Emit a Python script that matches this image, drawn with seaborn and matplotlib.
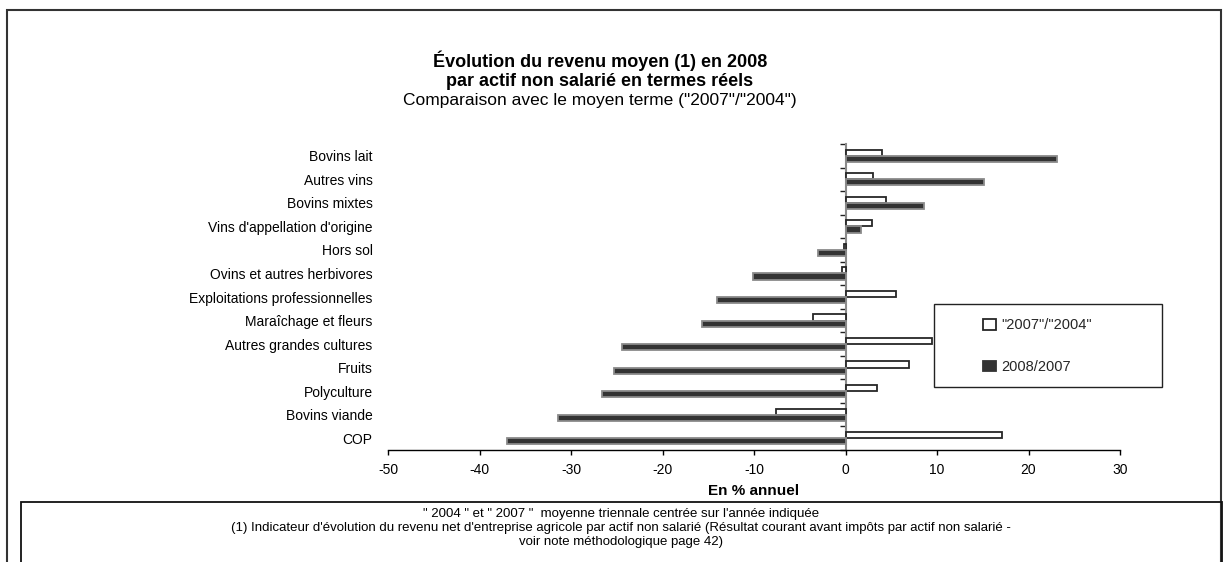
import numpy as np
import pandas as pd
import matplotlib
matplotlib.use("Agg")
import matplotlib.pyplot as plt
import seaborn as sns
from matplotlib.patches import Rectangle

# Data (en % annuel)
categories = ["Bovins lait", "Autres vins", "Bovins mixtes", "Vins d'appellation d'origine",
              "Hors sol", "Ovins et autres herbivores", "Exploitations professionnelles",
              "Maraîchage et fleurs", "Autres grandes cultures", "Fruits", "Polyculture",
              "Bovins viande", "COP"]
moyen_terme = [4.0, 3.0, 4.4, 2.9, -0.2, -0.4, 5.5, -3.5, 9.5, 6.9, 3.4, -7.6, 17.1]
evol_2008 = [23.1, 15.1, 8.6, 1.7, -3.0, -10.1, -14.0, -15.7, -24.4, -25.3, -26.6, -31.4, -37.0]
series = ['"2007"/"2004"', "2008/2007"]
xticks = [-50, -40, -30, -20, -10, 0, 10, 20, 30]

df = pd.DataFrame({
    "categorie": categories * 2,
    "serie": [series[0]] * len(categories) + [series[1]] * len(categories),
    "valeur": moyen_terme + evol_2008,
})

sns.set_theme(style="white")
plt.rcParams["font.family"] = ["Liberation Sans", "DejaVu Sans"]

W, H = 1228, 562
fig = plt.figure(figsize=(W / 100, H / 100), dpi=100)
ax = fig.add_axes([388 / W, 1 - 450 / H, (1120 - 388) / W, (450 - 144) / H])

sns.barplot(data=df, x="valeur", y="categorie", hue="serie", orient="h",
            palette=["white", "#333333"], saturation=1, width=0.52, ax=ax)

# bar outlines
edge_cols = ["#262626", "#8a8a8a"]
for cont, ec in zip(ax.containers, edge_cols):
    for bar in cont:
        bar.set_edgecolor(ec)
        bar.set_linewidth(1.3)

ax.set_xlim(-50, 30)
ax.set_ylim(len(categories) - 0.5, -0.5)
ax.set_xticks(xticks)
ax.set_xticklabels([str(t) for t in xticks])
for s in ["top", "right", "left"]:
    ax.spines[s].set_visible(False)
ax.spines["bottom"].set_color("black")
ax.spines["bottom"].set_linewidth(1.0)
ax.tick_params(axis="x", bottom=True, direction="out", length=3.5, width=1,
               color="black", pad=6, labelsize=10, labelcolor="black")
ax.tick_params(axis="y", left=False, length=0, pad=11, labelsize=10, labelcolor="black")
ax.set_ylabel("")
ax.set_xlabel("En % annuel", fontsize=11, fontweight="bold", labelpad=5, color="black")

# vertical axis at zero with ticks between categories
sec = ax.secondary_yaxis(50 / 80)
sec.set_alignment("left")
sec.set_yticks(np.arange(-0.5, len(categories), 1.0))
sec.set_yticklabels([])
sec.tick_params(axis="y", direction="out", length=4, width=1, color="#222222")
for s in sec.spines.values():
    s.set_color("#8a8a8a")
    s.set_linewidth(1.5)

# legend in a box
handles, labels = ax.get_legend_handles_labels()
ax.get_legend().remove()
fig.patches.append(Rectangle((934 / W, 1 - 387 / H), (1162 - 934) / W, (387 - 304) / H,
                             transform=fig.transFigure, fill=False, ec="#222222", lw=1.0))
leg = fig.legend(handles, labels, loc="upper left", bbox_to_anchor=(976 / W, 1 - 311 / H),
                 frameon=False, fontsize=10.5, labelspacing=1.9, handlelength=0.9,
                 handleheight=0.75, handletextpad=0.35, borderpad=0)
for h, ec in zip(leg.legend_handles, ["#262626", "#333333"]):
    h.set_edgecolor(ec)
    h.set_linewidth(1.3)

# titles
fig.text(600 / W, 1 - 61 / H, "Évolution du revenu moyen (1) en 2008", ha="center", va="center",
         fontsize=13, fontweight="bold", color="black")
fig.text(600 / W, 1 - 81 / H, "par actif non salarié en termes réels", ha="center", va="center",
         fontsize=13, fontweight="bold", color="black")
fig.text(600 / W, 1 - 101 / H, 'Comparaison avec le moyen terme ("2007"/"2004")', ha="center",
         va="center", fontsize=12.5, color="black")

# outer frame and footnote box
fig.patches.append(Rectangle((7 / W, -0.05), (1221 - 7) / W, 1 - 10 / H + 0.05,
                             transform=fig.transFigure, fill=False, ec="#333333", lw=1.5))
fig.patches.append(Rectangle((21 / W, -0.05), (1222 - 21) / W, 1 - 502 / H + 0.05,
                             transform=fig.transFigure, fill=False, ec="#111111", lw=1.3))
fig.text(621 / W, 1 - 514 / H, '" 2004 " et " 2007 "  moyenne triennale centrée sur l\'année indiquée',
         ha="center", va="center", fontsize=9.5, color="black")
fig.text(621 / W, 1 - 528 / H,
         "(1) Indicateur d'évolution du revenu net d'entreprise agricole par actif non salarié "
         "(Résultat courant avant impôts par actif non salarié -", ha="center", va="center",
         fontsize=9.5, color="black")
fig.text(621 / W, 1 - 542 / H, "voir note méthodologique page 42)", ha="center", va="center",
         fontsize=9.5, color="black")

fig.savefig("out.png", dpi=100)
